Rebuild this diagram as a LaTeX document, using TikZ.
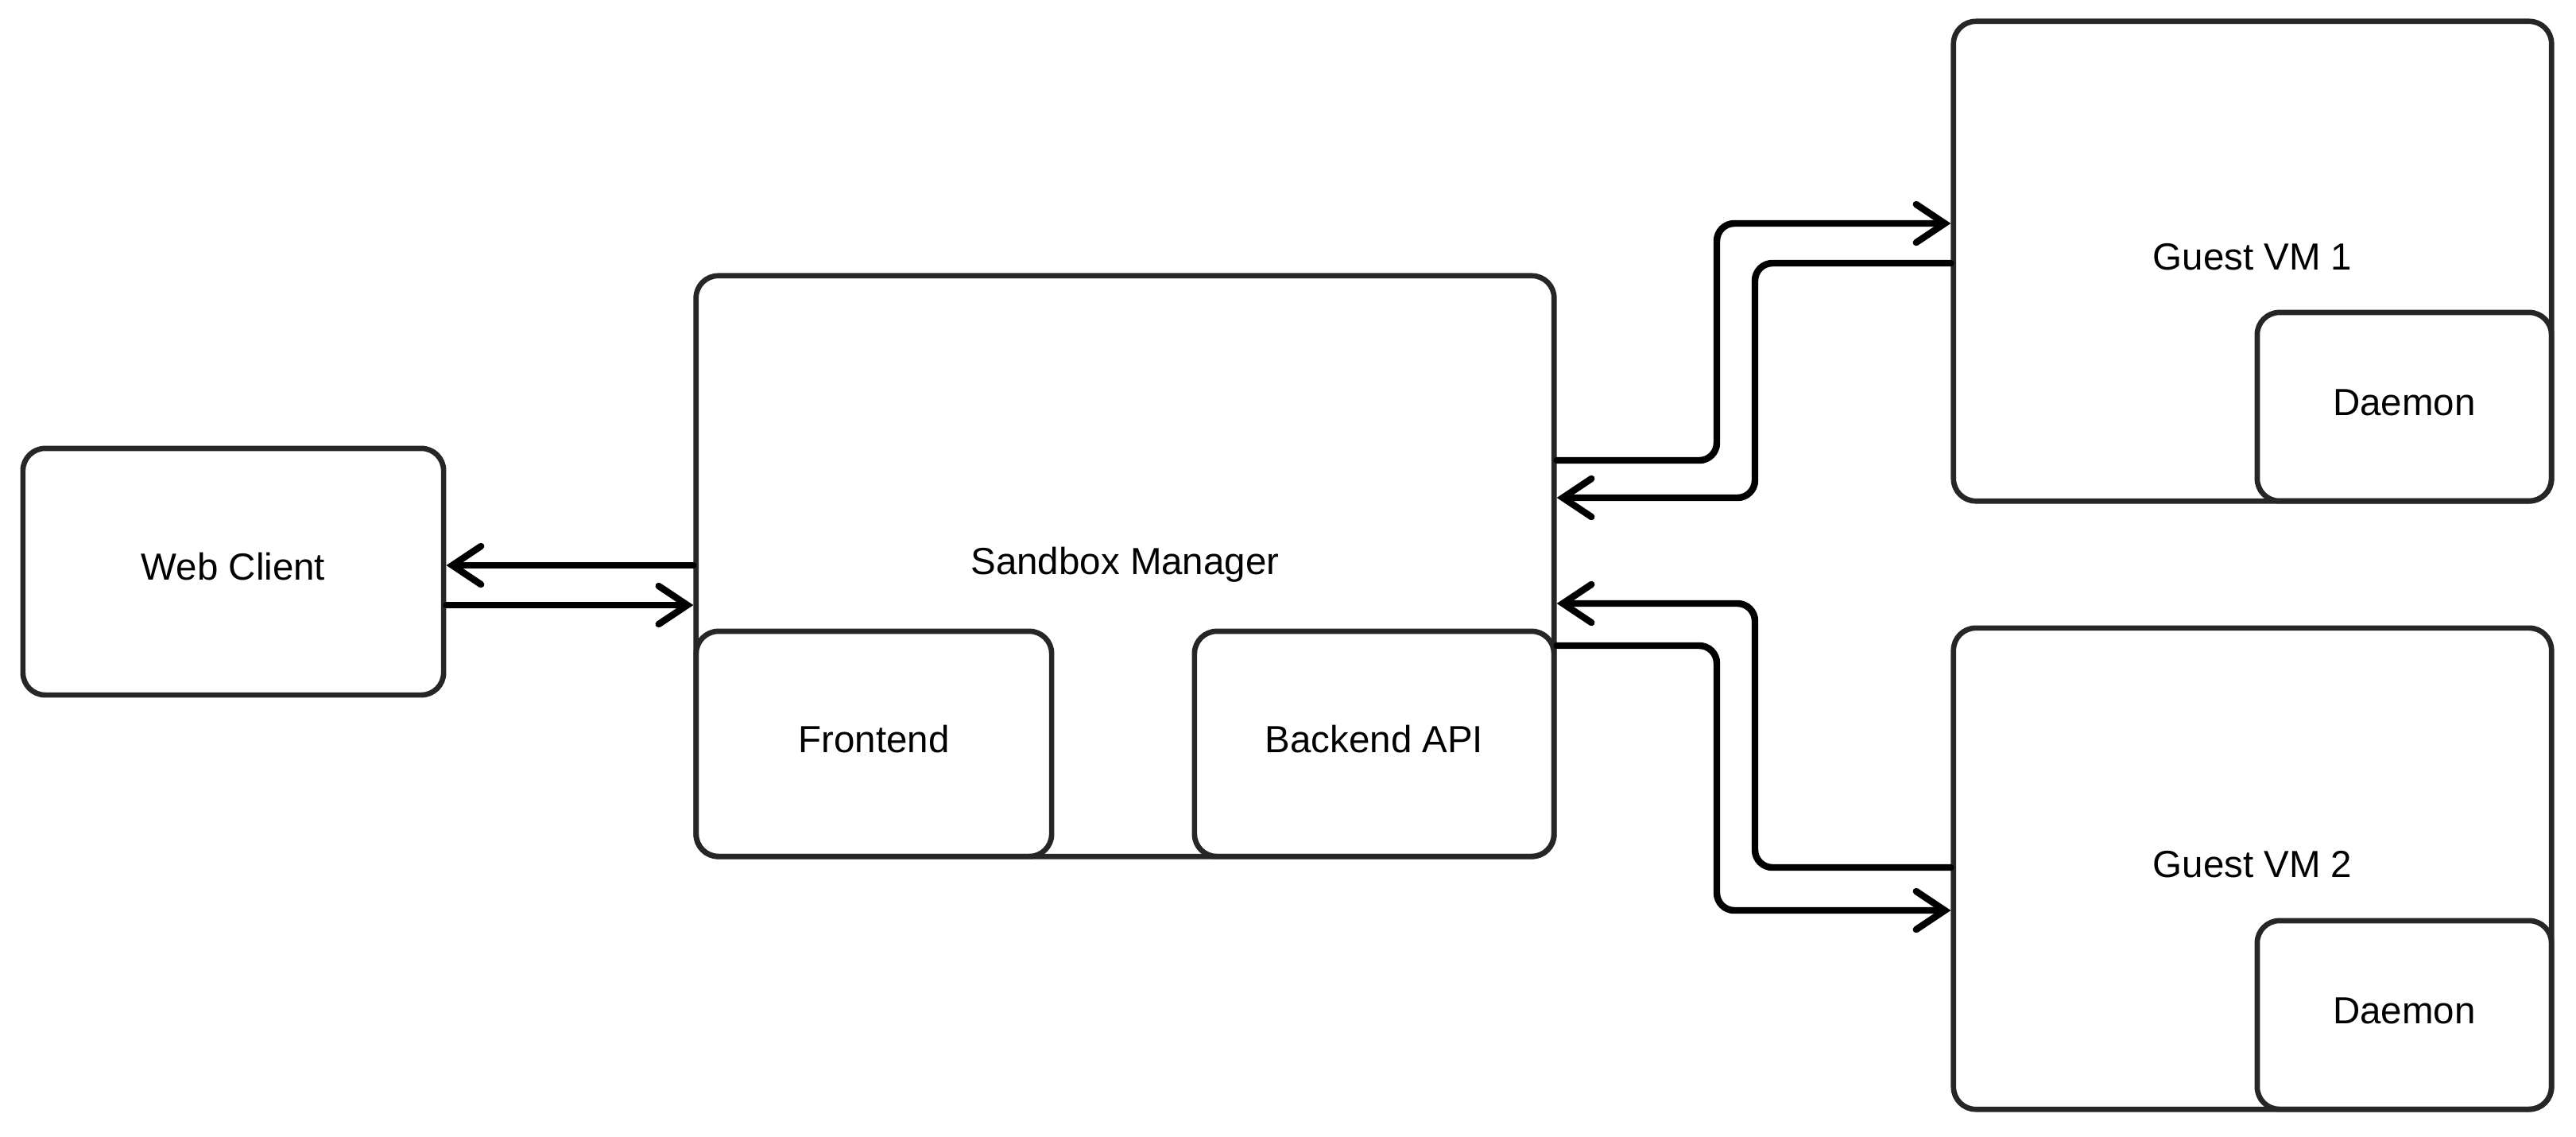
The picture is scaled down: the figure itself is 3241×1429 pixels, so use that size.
\documentclass[tikz,border=0pt]{standalone}
\usepackage{fontspec}
\setmainfont{Liberation Sans}
\usetikzlibrary{arrows.meta}
\definecolor{boxcol}{HTML}{262626}
\begin{document}
\begin{tikzpicture}[x=0.01cm,y=-0.01cm,
  box/.style={draw=boxcol, line width=1.9pt, rounded corners=0.28cm, align=center,
    inner sep=0pt, text height=0.33cm, text depth=0.12cm,
    font=\fontsize{13.5}{16}\selectfont},
  arr/.style={draw=black, line width=2.4pt, rounded corners=0.22cm, line cap=round,
    -{Straight Barb[length=0.36cm, width=0.48cm, line width=2.4pt, line cap=round]}}]
\useasboundingbox (0,0) rectangle (3241,1429);
% nodes
\node[box, minimum width=5.29cm, minimum height=3.10cm] (wc) at (293.5,719) {Web Client};
\node[box, minimum width=10.79cm, minimum height=7.30cm] (sb) at (1415.5,712) {Sandbox Manager};
\node[box, minimum width=4.47cm, minimum height=2.83cm] (fe) at (1099.5,935.5) {Frontend};
\node[box, minimum width=4.52cm, minimum height=2.83cm] (be) at (1729,935.5) {Backend API};
\node[box, minimum width=7.52cm, minimum height=6.03cm] (vm1) at (2834,328.5) {Guest VM 1};
\node[box, minimum width=3.70cm, minimum height=2.37cm] (d1) at (3025,511.5) {Daemon};
\node[box, minimum width=7.52cm, minimum height=6.05cm] (vm2) at (2834,1092.5) {Guest VM 2};
\node[box, minimum width=3.70cm, minimum height=2.37cm] (d2) at (3025,1276.5) {Daemon};
% web client <-> sandbox
\draw[arr] (sb.west |- 0,711) -- (wc.east |- 0,711);
\draw[arr] (wc.east |- 0,761) -- (sb.west |- 0,761);
% sandbox <-> VM1
\draw[arr] (sb.east |- 0,579) -- (2160,579) -- (2160,281) -- (vm1.west |- 0,281);
\draw[arr] (vm1.west |- 0,331) -- (2208,331) -- (2208,626) -- (sb.east |- 0,626);
% sandbox <-> VM2
\draw[arr] (vm2.west |- 0,1091) -- (2208,1091) -- (2208,759) -- (sb.east |- 0,759);
\draw[arr] (sb.east |- 0,812) -- (2160,812) -- (2160,1145) -- (vm2.west |- 0,1145);
\end{tikzpicture}
\end{document}
